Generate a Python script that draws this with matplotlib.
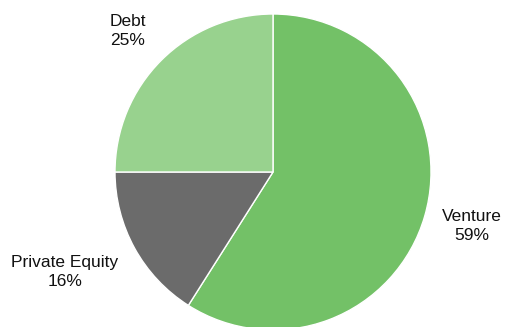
import matplotlib
matplotlib.use("Agg")
from matplotlib import pyplot as plt

# データ
categories = ["Venture", "Private Equity", "Debt"]
shares = [59, 16, 25]
colors = ["#73c167", "#6b6b6b", "#98d28e"]

# ラベル位置 (ピクセル座標, 上からのy)
label_pos = [(472, 226), (65, 272), (128, 31)]

W, H = 505, 327
fig = plt.figure(figsize=(W / 100, H / 100), dpi=100)
ax = fig.add_axes([0, 0, 1, 1])

ax.pie(shares, colors=colors, startangle=90, counterclock=False,
       center=(273, H - 172), radius=158,
       wedgeprops=dict(edgecolor="white", linewidth=1.0), frame=True)
ax.set_xlim(0, W)
ax.set_ylim(0, H)
ax.set_aspect("equal")
ax.axis("off")

for name, val, (x, y) in zip(categories, shares, label_pos):
    ax.text(x, H - y, f"{name}\n{val}%", ha="center", va="center",
            fontsize=12.5, family="Liberation Sans", color="#111111",
            linespacing=1.38)

fig.savefig("out.png", dpi=100)
